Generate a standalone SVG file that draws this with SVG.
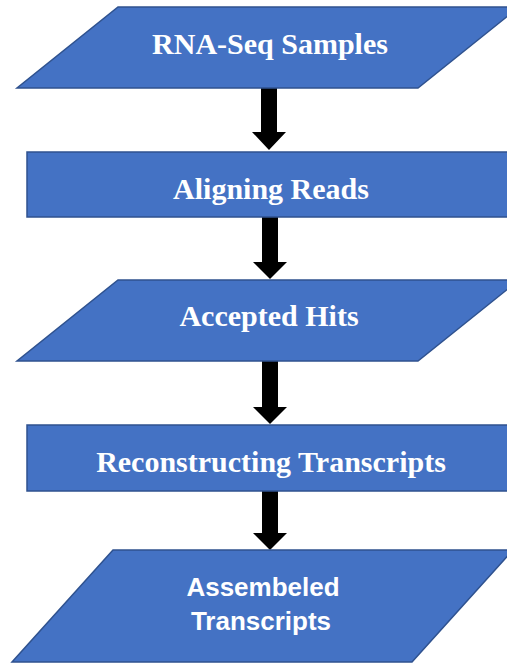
<svg xmlns="http://www.w3.org/2000/svg" width="507" height="664" viewBox="0 0 507 664">
<style>
.shape{fill:#4472C4;stroke:#2F528F;stroke-width:1.5}
.serif{font-family:"Liberation Serif","Times New Roman",serif;font-weight:bold;font-size:30px;fill:#FFFFFF;text-anchor:middle}
.sans{font-family:"Liberation Sans",Arial,sans-serif;font-weight:bold;font-size:26px;fill:#FFFFFF;text-anchor:middle}
.arrow{fill:#000000}
</style>
<rect width="507" height="664" fill="#FFFFFF"/>
<g id="connectors">
<polygon class="arrow" points="261,88 277,88 277,132 286,132 269,150 252,132 261,132"/>
<polygon class="arrow" points="262,217 278,217 278,262 287,262 270,279 253,262 262,262"/>
<polygon class="arrow" points="262,361 278,361 278,407 287,407 270,424 253,407 262,407"/>
<polygon class="arrow" points="262,488 278,488 278,533 287,533 270,550 253,533 262,533"/>
</g>
<g id="node1">
<polygon class="shape" points="118,7 519,7 418,88 17,88"/>
<text class="serif" x="270" y="54">RNA-Seq Samples</text>
</g>
<g id="node2">
<rect class="shape" x="27" y="152" width="490" height="65"/>
<text class="serif" x="271" y="199">Aligning Reads</text>
</g>
<g id="node3">
<polygon class="shape" points="118,280 519,280 418,361 17,361"/>
<text class="serif" x="269" y="326">Accepted Hits</text>
</g>
<g id="node4">
<rect class="shape" x="27" y="425" width="490" height="66"/>
<text class="serif" x="271" y="472">Reconstructing Transcripts</text>
</g>
<g id="node5">
<polygon class="shape" points="113,550 513,550 412,662 12,662"/>
<text class="sans" x="263" y="596">Assembeled</text>
<text class="sans" x="261" y="630">Transcripts</text>
</g>
</svg>
